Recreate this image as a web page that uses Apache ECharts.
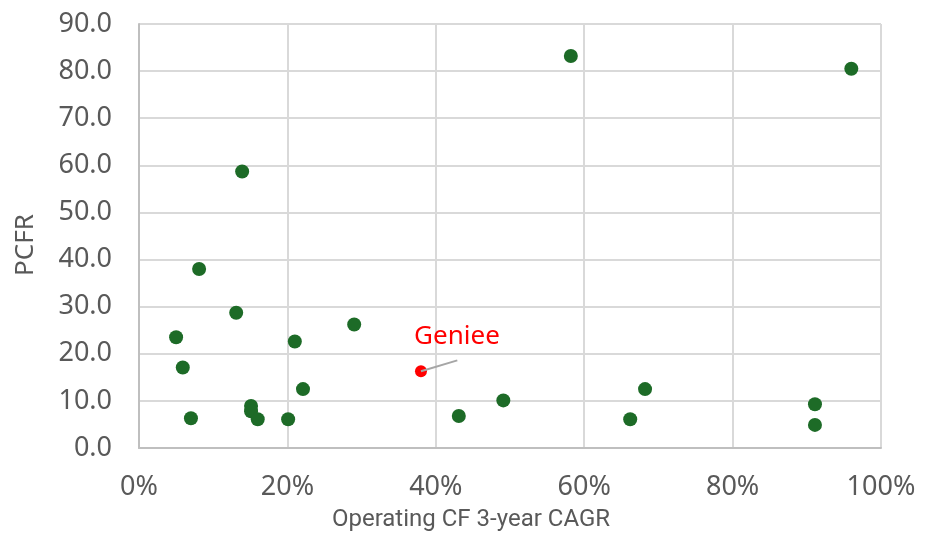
<!DOCTYPE html>
<html>
<head>
<meta charset="utf-8">
<script src="https://cdn.jsdelivr.net/npm/echarts@6/dist/echarts.min.js"></script>
<style>html,body{margin:0;padding:0;background:#fff}#c{width:934px;height:537px}</style>
</head>
<body>
<div id="c"></div>
<script>
// Peer companies: Operating CF 3-year CAGR (%) and PCFR
const peerCagr = [96.0, 58.2, 13.9, 8.1, 13.1, 5.0, 29.0, 21.0, 5.9, 22.1, 15.1, 15.1, 16.0, 7.0, 20.1, 43.1, 49.1, 66.2, 68.2, 91.1, 91.1];
const peerPcfr = [80.5, 83.2, 58.7, 38.0, 28.7, 23.5, 26.2, 22.6, 17.1, 12.5, 8.9, 7.8, 6.1, 6.3, 6.1, 6.8, 10.1, 6.1, 12.5, 9.3, 4.9];
// Highlighted company
const focusName = 'Geniee';
const focusCagr = [38.0];
const focusPcfr = [16.3];
// Leader line end (data space) for the highlighted label
const leaderEnd = [42.9, 18.6];
// Axis ticks
const xTicks = [0, 20, 40, 60, 80, 100];
const yTicks = [0, 10, 20, 30, 40, 50, 60, 70, 80, 90];

const font = 'Noto Sans';
const txt = '#595959';
const chart = echarts.init(document.getElementById('c'), null, {renderer: 'canvas'});
chart.setOption({
  animation: false,
  backgroundColor: '#fff',
  grid: {left: 139, right: 53, top: 24, bottom: 87},
  xAxis: {
    type: 'value', min: xTicks[0], max: xTicks[xTicks.length - 1], interval: 20,
    name: 'Operating CF 3-year CAGR', nameLocation: 'middle', nameGap: 60,
    nameTextStyle: {fontFamily: 'Roboto', fontSize: 24, color: txt, padding: [0, 78, 0, 0]},
    axisLine: {show: true, lineStyle: {color: '#bfbfbf', width: 2}},
    axisTick: {show: false},
    axisLabel: {formatter: '{value}%', fontFamily: font, fontSize: 27, color: txt, margin: 26},
    splitLine: {show: true, lineStyle: {color: '#d9d9d9', width: 2}}
  },
  yAxis: {
    type: 'value', min: yTicks[0], max: yTicks[yTicks.length - 1], interval: 10,
    name: 'PCFR', nameLocation: 'middle', nameGap: 100,
    nameTextStyle: {fontFamily: font, fontSize: 26, color: txt, padding: [0, 18, 0, 0]},
    axisLine: {show: true, lineStyle: {color: '#bfbfbf', width: 2}},
    axisTick: {show: false},
    axisLabel: {formatter: v => v.toFixed(1), fontFamily: font, fontSize: 27, color: txt, margin: 27},
    splitLine: {show: true, lineStyle: {color: '#d9d9d9', width: 2}}
  },
  series: [
    {
      type: 'scatter', symbolSize: 14,
      itemStyle: {color: '#1D6B27', opacity: 1},
      data: peerCagr.map((x, i) => [x, peerPcfr[i]])
    },
    {
      type: 'scatter', symbolSize: 12, z: 3,
      itemStyle: {color: '#FF0000', opacity: 1},
      data: focusCagr.map((x, i) => [x, focusPcfr[i]]),
      label: {show: true, formatter: focusName, color: '#FF0000', fontFamily: font, fontSize: 26, position: 'inside', offset: [36, -35]},
      markLine: {
        silent: true, symbol: 'none', animation: false,
        label: {show: false},
        lineStyle: {color: '#a6a6a6', width: 2, type: 'solid'},
        data: [[{coord: [focusCagr[0], focusPcfr[0]]}, {coord: leaderEnd}]]
      }
    }
  ]
});
</script>
</body>
</html>
